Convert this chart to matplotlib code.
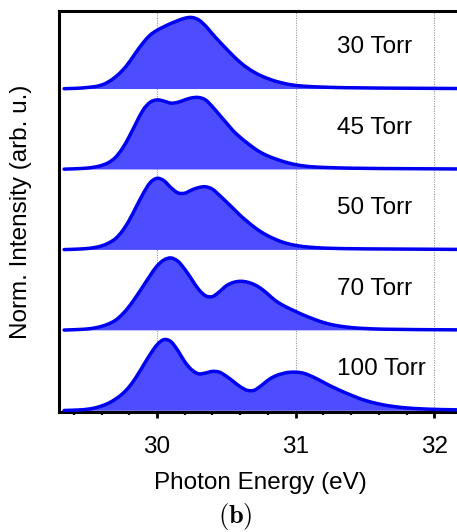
import matplotlib
matplotlib.use("Agg")
import matplotlib.pyplot as plt
from matplotlib.path import Path
from matplotlib.patches import PathPatch
from matplotlib.ticker import MultipleLocator, NullLocator

plt.rcParams['font.family'] = ['Liberation Sans', 'DejaVu Sans']
plt.rcParams['mathtext.fontset'] = 'cm'

# Photon energy sampling (eV)
energy = [29.33, 29.35, 29.40, 29.45, 29.50, 29.55, 29.60, 29.65, 29.70, 29.75,
          29.80, 29.85, 29.90, 29.95, 30.00, 30.05, 30.10, 30.15, 30.20, 30.25,
          30.30, 30.35, 30.40, 30.45, 30.50, 30.55, 30.60, 30.65, 30.70, 30.75,
          30.80, 30.85, 30.90, 30.95, 31.00, 31.05, 31.10, 31.15, 31.20, 31.25,
          31.30, 31.35, 31.40, 31.45, 31.50, 31.60, 31.70, 31.80, 31.90, 32.00,
          32.10, 32.20]

# Normalised spectra for each pressure
torr_30 = [0.004, 0.005, 0.008, 0.012, 0.02, 0.03, 0.05, 0.09, 0.15, 0.23,
           0.335, 0.46, 0.575, 0.67, 0.73, 0.775, 0.815, 0.85, 0.88, 0.89,
           0.86, 0.785, 0.685, 0.59, 0.50, 0.412, 0.332, 0.265, 0.21, 0.165,
           0.13, 0.10, 0.077, 0.058, 0.045, 0.037, 0.031, 0.027, 0.024, 0.021,
           0.019, 0.017, 0.016, 0.015, 0.014, 0.012, 0.011, 0.010, 0.009, 0.008,
           0.007, 0.006]
torr_45 = [0.004, 0.005, 0.008, 0.012, 0.018, 0.03, 0.05, 0.085, 0.15, 0.26,
           0.41, 0.58, 0.74, 0.835, 0.865, 0.85, 0.825, 0.835, 0.865, 0.89,
           0.895, 0.865, 0.78, 0.68, 0.58, 0.48, 0.40, 0.33, 0.265, 0.21,
           0.168, 0.135, 0.105, 0.08, 0.06, 0.046, 0.036, 0.03, 0.026, 0.023,
           0.02, 0.018, 0.016, 0.015, 0.014, 0.012, 0.011, 0.01, 0.009, 0.008,
           0.007, 0.006]
torr_50 = [0.004, 0.005, 0.008, 0.012, 0.018, 0.03, 0.05, 0.085, 0.14, 0.235,
           0.37, 0.535, 0.70, 0.835, 0.89, 0.86, 0.775, 0.71, 0.705, 0.745,
           0.775, 0.785, 0.755, 0.68, 0.598, 0.515, 0.43, 0.355, 0.285, 0.225,
           0.175, 0.135, 0.10, 0.075, 0.056, 0.043, 0.034, 0.028, 0.023, 0.02,
           0.018, 0.016, 0.015, 0.014, 0.013, 0.012, 0.011, 0.01, 0.009, 0.008,
           0.007, 0.006]
torr_70 = [0.004, 0.005, 0.008, 0.012, 0.018, 0.03, 0.05, 0.08, 0.125, 0.20,
           0.30, 0.42, 0.55, 0.68, 0.80, 0.875, 0.90, 0.86, 0.76, 0.635,
           0.51, 0.43, 0.42, 0.48, 0.555, 0.595, 0.61, 0.60, 0.57, 0.52,
           0.45, 0.375, 0.32, 0.275, 0.235, 0.195, 0.16, 0.127, 0.098, 0.075,
           0.058, 0.045, 0.035, 0.028, 0.023, 0.016, 0.013, 0.011, 0.009, 0.008,
           0.007, 0.006]
torr_100 = [0.004, 0.005, 0.008, 0.012, 0.02, 0.035, 0.06, 0.095, 0.145, 0.21,
            0.30, 0.42, 0.56, 0.70, 0.82, 0.885, 0.86, 0.75, 0.61, 0.51,
            0.46, 0.47, 0.49, 0.48, 0.43, 0.365, 0.30, 0.255, 0.255, 0.31,
            0.38, 0.43, 0.46, 0.478, 0.48, 0.47, 0.44, 0.40, 0.355, 0.31,
            0.27, 0.23, 0.195, 0.16, 0.13, 0.085, 0.055, 0.036, 0.025, 0.018,
            0.014, 0.011]

labels = ['30 Torr', '45 Torr', '50 Torr', '70 Torr', '100 Torr']
spectra = [torr_30, torr_45, torr_50, torr_70, torr_100]
offsets = [4, 3, 2, 1, 0]

fill_color = '#4d4dff'
line_color = '#0000f0'
fs = 17.5


def smooth_path(xs, ys):
    """Cubic Hermite (Bezier) path passing through every sample."""
    n = len(xs)
    slopes = []
    for i in range(n):
        if i == 0:
            m = (ys[1] - ys[0]) / (xs[1] - xs[0])
        elif i == n - 1:
            m = (ys[-1] - ys[-2]) / (xs[-1] - xs[-2])
        else:
            m = (ys[i + 1] - ys[i - 1]) / (xs[i + 1] - xs[i - 1])
        slopes.append(m)
    verts = [(xs[0], ys[0])]
    codes = [Path.MOVETO]
    for i in range(n - 1):
        h = xs[i + 1] - xs[i]
        verts += [(xs[i] + h / 3, ys[i] + slopes[i] * h / 3),
                  (xs[i + 1] - h / 3, ys[i + 1] - slopes[i + 1] * h / 3),
                  (xs[i + 1], ys[i + 1])]
        codes += [Path.CURVE4] * 3
    return verts, codes


fig = plt.figure(figsize=(4.57, 5.32), dpi=100)
ax = fig.add_axes([59 / 457, 1 - 412 / 532, 403 / 457, 401 / 532])

for lab, spec, off in zip(labels, spectra, offsets):
    top = [off + v for v in spec]
    verts, codes = smooth_path(energy, top)
    fill_verts = verts + [(energy[-1], off), (energy[0], off), (energy[0], off)]
    fill_codes = codes + [Path.LINETO, Path.LINETO, Path.CLOSEPOLY]
    ax.add_patch(PathPatch(Path(fill_verts, fill_codes), facecolor=fill_color,
                           edgecolor='none', lw=0, zorder=2))
    ax.add_patch(PathPatch(Path(verts, codes), facecolor='none',
                           edgecolor=line_color, lw=2.5, joinstyle='round',
                           capstyle='round', zorder=3))
    ax.text(31.3, off + 0.52, lab, fontsize=fs, ha='left', va='center', zorder=4)

ax.set_xlim(29.293, 32.2)
ax.set_ylim(-0.015, 4.97)

ax.xaxis.set_major_locator(MultipleLocator(1))
ax.xaxis.set_minor_locator(MultipleLocator(0.2))
ax.yaxis.set_major_locator(NullLocator())
ax.yaxis.set_minor_locator(NullLocator())
ax.grid(axis='x', which='major', color='#999999', linestyle=(0, (1, 1.2)),
        linewidth=0.8, zorder=1)
ax.set_axisbelow(True)

ax.tick_params(axis='x', which='major', direction='out', length=4.5, width=2,
               labelsize=fs, pad=13)
ax.tick_params(axis='x', which='minor', direction='out', length=2.2, width=1.6)

for side in ['left', 'bottom', 'top', 'right']:
    ax.spines[side].set_linewidth(2.2)

ax.set_xlabel('Photon Energy (eV)', fontsize=fs, labelpad=10)
fig.text(21 / 457, 0.5 * (1 - 412 / 532 + 1 - 11 / 532),
         'Norm. Intensity (arb. u.)', rotation=90, fontsize=fs,
         ha='center', va='center')
fig.text(235.5 / 457, (532 - 516) / 532, r'$\mathbf{(b)}$', fontsize=19,
         ha='center', va='center')

fig.savefig('out.png', dpi=100)
